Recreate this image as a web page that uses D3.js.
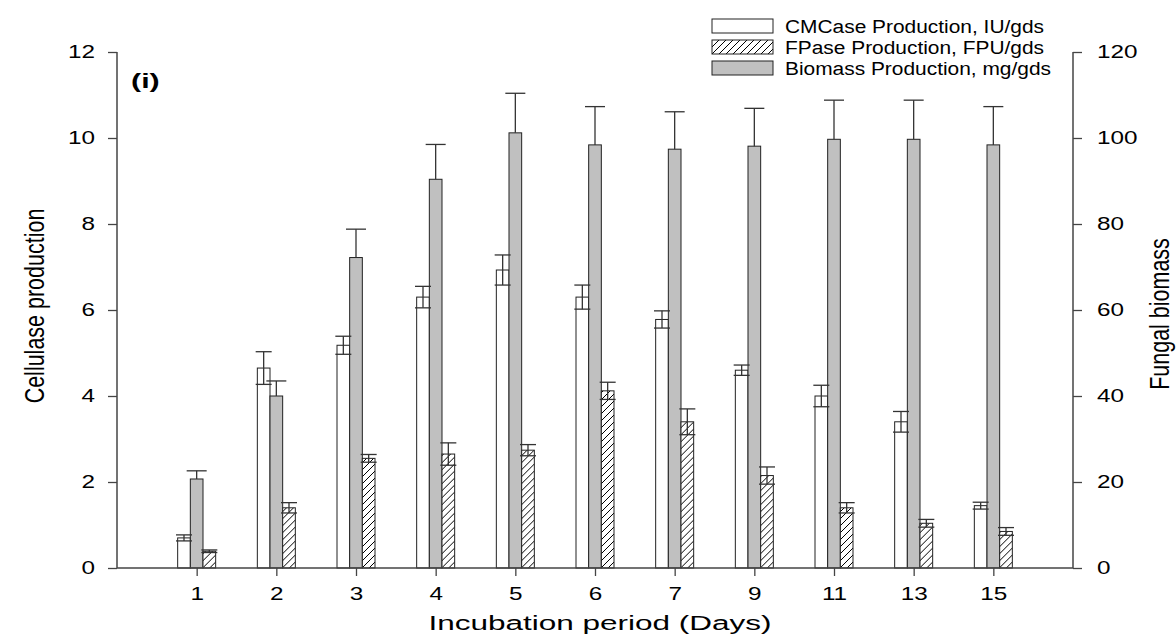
<!DOCTYPE html>
<html>
<head>
<meta charset="utf-8">
<script src="https://cdn.jsdelivr.net/npm/d3@7"></script>
<style>
  body { margin: 0; background: #fff; }
  text { font-family: "Liberation Sans", Arial, sans-serif; fill: #000; }
</style>
</head>
<body>
<div id="chart"></div>
<script>
const width = 1176, height = 644;
const margins = { top: 52, right: 103, bottom: 76, left: 117 };

// data
const days = ["1", "2", "3", "4", "5", "6", "7", "9", "11", "13", "15"];
const cmcase = [0.70, 4.65, 5.18, 6.30, 6.93, 6.30, 5.78, 4.60, 4.00, 3.40, 1.45];
const cmcaseErr = [0.07, 0.38, 0.21, 0.25, 0.35, 0.28, 0.20, 0.12, 0.25, 0.24, 0.08];
const fpase = [0.39, 1.40, 2.55, 2.65, 2.74, 4.12, 3.40, 2.15, 1.40, 1.04, 0.85];
const fpaseErr = [0.03, 0.12, 0.09, 0.26, 0.13, 0.20, 0.30, 0.20, 0.12, 0.09, 0.09];
const biomass = [20.7, 40.0, 72.2, 90.4, 101.2, 98.4, 97.4, 98.1, 99.7, 99.7, 98.4];
const biomassErr = [1.9, 3.5, 6.6, 8.1, 9.2, 8.9, 8.7, 8.8, 9.1, 9.1, 8.9];
const leftTicks = [0, 2, 4, 6, 8, 10, 12];
const rightTicks = [0, 20, 40, 60, 80, 100, 120];

const seriesKeys = ["cmcase", "biomass", "fpase"];
const legendItems = [
  { key: "cmcase", label: "CMCase Production, IU/gds" },
  { key: "fpase", label: "FPase Production, FPU/gds" },
  { key: "biomass", label: "Biomass Production, mg/gds" }
];

const rows = days.map((d, i) => ({
  day: d,
  cmcase: { v: cmcase[i], e: cmcaseErr[i], axis: "left" },
  biomass: { v: biomass[i], e: biomassErr[i], axis: "right" },
  fpase: { v: fpase[i], e: fpaseErr[i], axis: "left" }
}));

// the source picture is stretched sideways, so text is widened to match
const stretch = 1.35;

const svg = d3.select("#chart").append("svg")
  .attr("width", width)
  .attr("height", height);

const defs = svg.append("defs");
const pat = defs.append("pattern")
  .attr("id", "hatch")
  .attr("patternUnits", "userSpaceOnUse")
  .attr("width", 7).attr("height", 7);
pat.append("rect").attr("width", 7).attr("height", 7).attr("fill", "#fff");
pat.append("path")
  .attr("d", "M-1,1 l2,-2 M0,7 l7,-7 M6,8 l2,-2")
  .attr("stroke", "#000").attr("stroke-width", 1);

const fills = { cmcase: "#ffffff", biomass: "#c0c0c0", fpase: "url(#hatch)" };

const x0 = margins.left, x1 = width - margins.right;
const y0 = height - margins.bottom, y1 = margins.top;

const x = d3.scalePoint().domain(days).range([x0, x1]).padding(1);
const xs = d3.scaleBand().domain(seriesKeys).range([-19, 19]);
const yL = d3.scaleLinear().domain([0, 12]).range([y0, y1]);
const yR = d3.scaleLinear().domain([0, 120]).range([y0, y1]);

// bars
const groups = svg.append("g").selectAll("g")
  .data(rows).join("g")
  .attr("transform", d => `translate(${x(d.day)},0)`);

seriesKeys.forEach(k => {
  groups.append("rect")
    .attr("x", xs(k))
    .attr("width", xs.bandwidth())
    .attr("y", d => (d[k].axis === "left" ? yL : yR)(d[k].v))
    .attr("height", d => y0 - (d[k].axis === "left" ? yL : yR)(d[k].v))
    .attr("fill", fills[k])
    .attr("stroke", "#222")
    .attr("stroke-width", 1);
});

// error bars
seriesKeys.forEach(k => {
  const cx = xs(k) + xs.bandwidth() / 2;
  const cw = k === "biomass" ? 10 : 8;
  groups.each(function (d) {
    const sc = d[k].axis === "left" ? yL : yR;
    const g = d3.select(this).append("g")
      .attr("stroke", "#333").attr("stroke-width", 1.3).attr("fill", "none");
    const top = sc(d[k].v + d[k].e);
    const bot = k === "biomass" ? sc(d[k].v) : sc(d[k].v - d[k].e);
    g.append("line").attr("x1", cx).attr("x2", cx).attr("y1", top).attr("y2", bot);
    g.append("line").attr("x1", cx - cw).attr("x2", cx + cw).attr("y1", top).attr("y2", top);
    if (k !== "biomass") {
      g.append("line").attr("x1", cx - cw).attr("x2", cx + cw).attr("y1", bot).attr("y2", bot);
    }
  });
});

// axes
const styleAxis = g => {
  g.select(".domain").remove();
  g.selectAll(".tick line").attr("stroke", "#444").attr("stroke-width", 1.3);
  g.selectAll(".tick text").attr("font-size", 18).attr("fill", "#000")
    .style("font-family", "'Liberation Sans', Arial, sans-serif")
    .each(function () {
      const t = d3.select(this);
      const tx = +t.attr("x") || 0;
      t.attr("x", tx / stretch).attr("transform", `scale(${stretch},1)`);
    });
};

svg.append("g")
  .attr("transform", `translate(${x0},0)`)
  .call(d3.axisLeft(yL).tickValues(leftTicks).tickSize(9).tickPadding(13))
  .call(styleAxis);

svg.append("g")
  .attr("transform", `translate(${x1},0)`)
  .call(d3.axisRight(yR).tickValues(rightTicks).tickSize(9).tickPadding(15))
  .call(styleAxis);

svg.append("g")
  .attr("transform", `translate(0,${y0})`)
  .call(d3.axisBottom(x).tickSize(8).tickPadding(11))
  .call(styleAxis);

// axis lines
const axisLines = svg.append("g").attr("stroke", "#444").attr("stroke-width", 1.5);
axisLines.append("line").attr("x1", x0).attr("x2", x0).attr("y1", y1).attr("y2", y0);
axisLines.append("line").attr("x1", x1).attr("x2", x1).attr("y1", y1).attr("y2", y0);
axisLines.append("line").attr("x1", x0).attr("x2", x1).attr("y1", y0).attr("y2", y0);

// titles
svg.append("text")
  .attr("transform", `translate(44,${yL(6) - 4}) rotate(-90) scale(1,1.3)`)
  .attr("text-anchor", "middle")
  .attr("font-size", 21.5)
  .text("Cellulase production");

svg.append("text")
  .attr("transform", `translate(1169,${yR(60) + 4}) rotate(-90) scale(1,1.3)`)
  .attr("text-anchor", "middle")
  .attr("font-size", 21.5)
  .text("Fungal biomass");

svg.append("text")
  .attr("transform", `translate(600,630) scale(1.5,1)`)
  .attr("text-anchor", "middle")
  .attr("font-size", 21)
  .text("Incubation period (Days)");

svg.append("text")
  .attr("transform", "translate(131,88) scale(1.45,1)")
  .attr("font-size", 21)
  .attr("font-weight", "bold")
  .text("(i)");

// legend
const legend = svg.append("g").attr("transform", "translate(712,19)");
legendItems.forEach((it, i) => {
  const row = legend.append("g").attr("transform", `translate(0,${i * 21})`);
  row.append("rect")
    .attr("width", 61).attr("height", 14)
    .attr("fill", fills[it.key])
    .attr("stroke", "#222").attr("stroke-width", 1);
  row.append("text")
    .attr("transform", "translate(73,14) scale(1.1,1)")
    .attr("font-size", 19)
    .text(it.label);
});
</script>
</body>
</html>
